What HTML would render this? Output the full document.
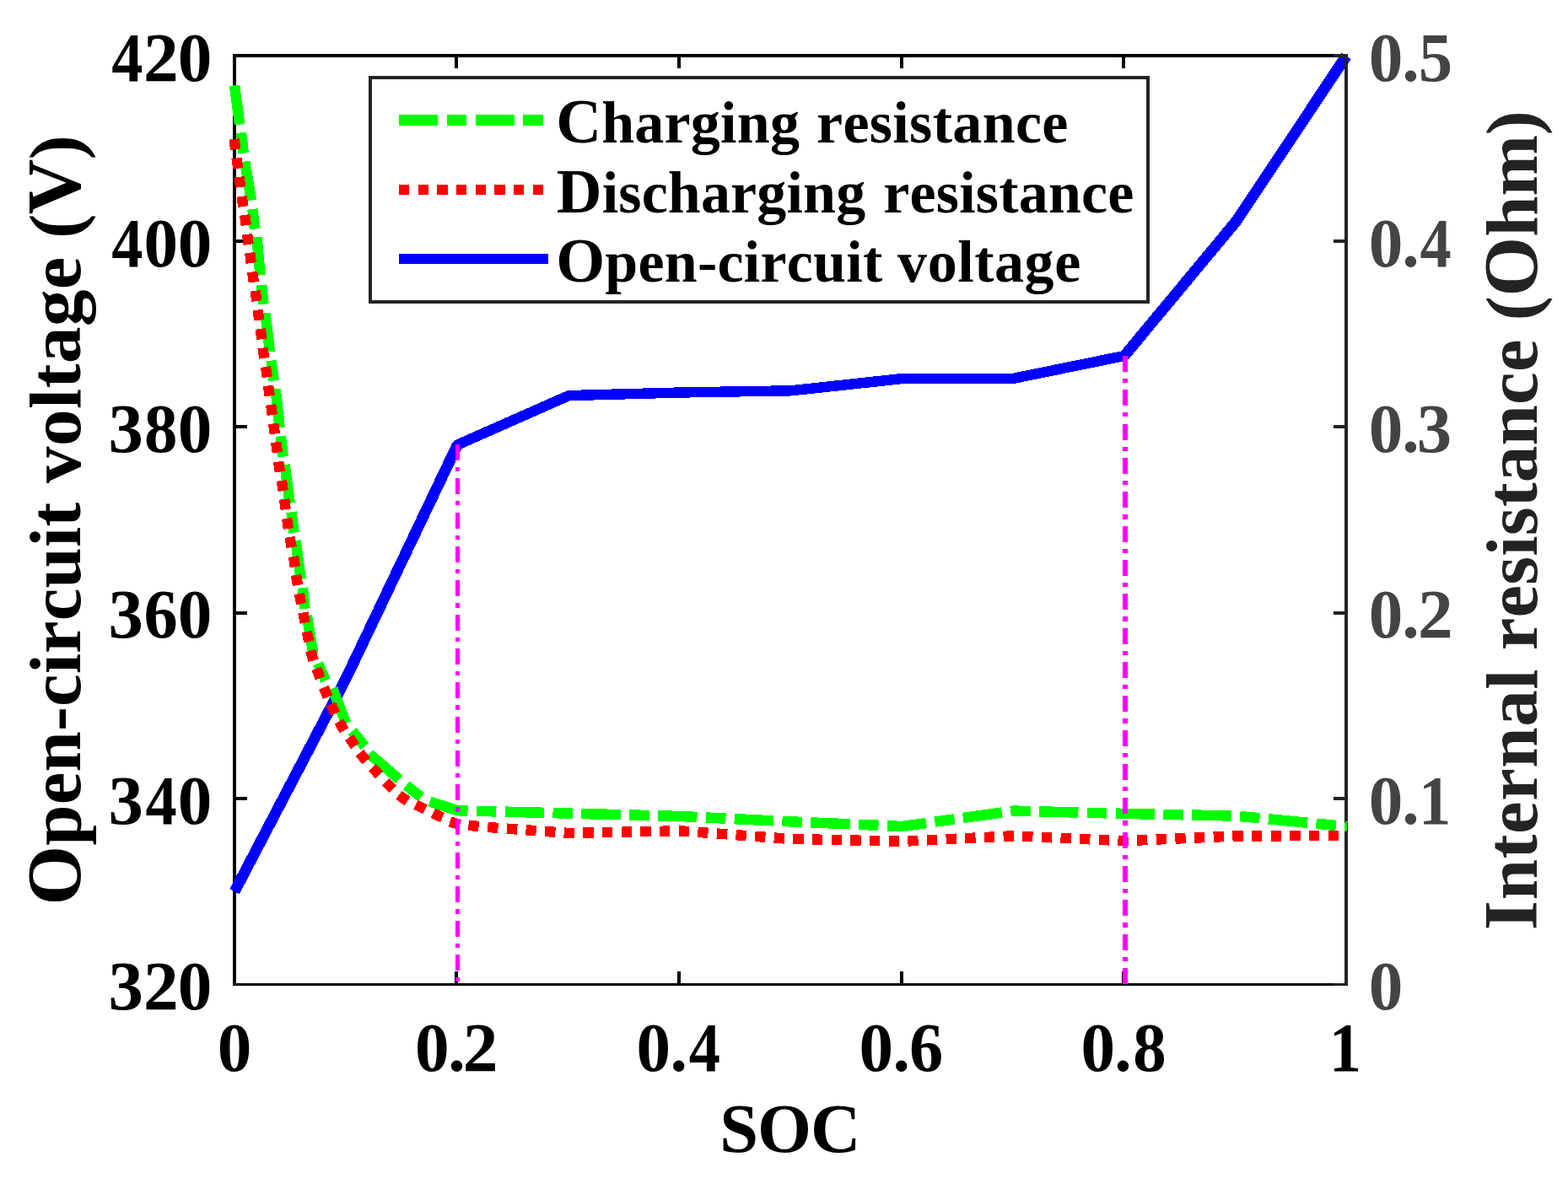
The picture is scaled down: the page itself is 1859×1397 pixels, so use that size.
<!DOCTYPE html>
<html lang="en">
<head>
<meta charset="utf-8">
<title>Open-circuit voltage and internal resistance vs SOC</title>
<style>
html,body{margin:0;padding:0;background:#fff;}
body{width:1859px;height:1397px;overflow:hidden;}
svg{display:block;}
</style>
</head>
<body>
<svg width="1859" height="1397" viewBox="0 0 1859 1397" role="img" aria-label="Open-circuit voltage and internal resistance versus SOC">
<rect x="0" y="0" width="1859" height="1397" fill="#fff"/>
<g shape-rendering="crispEdges">
<rect x="276" y="64" width="4" height="1105" fill="#000"/>
<rect x="276" y="64" width="1322" height="4" fill="#000"/>
<rect x="276" y="1166" width="1322" height="3" fill="#000"/>
<rect x="280" y="284" width="13" height="4" fill="#000"/>
<rect x="280" y="504" width="13" height="4" fill="#000"/>
<rect x="280" y="725" width="13" height="4" fill="#000"/>
<rect x="280" y="945" width="13" height="4" fill="#000"/>
<rect x="539" y="68" width="4" height="13" fill="#000"/>
<rect x="539" y="1152" width="4" height="14" fill="#000"/>
<rect x="803" y="68" width="4" height="13" fill="#000"/>
<rect x="803" y="1152" width="4" height="14" fill="#000"/>
<rect x="1067" y="68" width="4" height="13" fill="#000"/>
<rect x="1067" y="1152" width="4" height="14" fill="#000"/>
<rect x="1330" y="68" width="4" height="13" fill="#000"/>
<rect x="1330" y="1152" width="4" height="14" fill="#000"/>
</g>
<polyline fill="none" stroke="#0000ff" stroke-width="12.4" stroke-linejoin="round" stroke-linecap="butt" shape-rendering="crispEdges" points="278,1057.3 410.2,804.5 542.3,527.5 674.5,469.1 806.5,465.5 938,463.3 1070,449 1201.7,448.8 1333,422 1465.5,262.5 1596,66.5"/>
<polyline fill="none" stroke="#0000ff" stroke-width="13.1" stroke-linejoin="round" stroke-linecap="butt" shape-rendering="crispEdges" points="278,1057.3 410.2,804.5 542.3,527.5"/>
<polyline fill="none" stroke="#0000ff" stroke-width="13.1" stroke-linejoin="round" stroke-linecap="butt" shape-rendering="crispEdges" points="1333,422 1465.5,262.5 1596,66.5"/>
<g shape-rendering="crispEdges">
<rect x="1594" y="64" width="4" height="1105" fill="#232323"/>
<rect x="1581" y="64" width="13" height="4" fill="#232323"/>
<rect x="1581" y="1166" width="13" height="3" fill="#232323"/>
<rect x="1581" y="284" width="13" height="4" fill="#232323"/>
<rect x="1581" y="504" width="13" height="4" fill="#232323"/>
<rect x="1581" y="725" width="13" height="4" fill="#232323"/>
<rect x="1581" y="945" width="13" height="4" fill="#232323"/>
</g>
<path fill="none" stroke="#00ff00" stroke-width="12.5" stroke-linecap="butt" shape-rendering="crispEdges" d="M278.1 101.3 L284.1 147.7 M286.1 157.4 L288.7 181.6 M290.2 191.5 L298 237.5 M299.5 248 L302 271.5 M304.5 281.1 L308.5 326.5 M310.1 338 L312.5 360.8 M314.5 371.3 L320 417.3 M321.6 427.7 L324.6 451.5 M326.6 461.2 L331.6 507.1 M332.7 517.2 L335.8 541.7 M337.6 551.1 L343.6 596.8 M345.4 607.3 L348.7 631.7 M350.6 641 L356.7 686.8 M358.7 697.1 L361.6 721.9 M363.9 730 L371.4 775.4 M376.9 786.8 L386.1 807 M394.2 816.4 L410.4 858 M417.8 866.9 L432.4 885 M437.9 894 L473.3 924.3 M481.7 931.5 L499.4 945.2"/>
<path fill="none" stroke="#00ff00" stroke-width="12.5" stroke-linecap="butt" stroke-linejoin="miter" shape-rendering="crispEdges" d="M509.7 950.6 L542.3 961.2 L554.52 961.51 M564.81 961.78 L588.4 962.39 M598.7 962.65 L645.19 963.85 M655.48 964.11 L674.5 964.6 L679.07 964.72 M689.37 964.98 L735.86 966.18 M746.15 966.45 L769.74 967.05 M780.04 967.32 L806.5 968 L826.51 968.97 M836.8 969.47 L860.37 970.62 M870.66 971.12 L917.1 973.38 M927.39 973.88 L938 974.4 L950.97 974.95 M961.26 975.39 L1007.71 977.36 M1018 977.79 L1041.58 978.79 M1051.87 979.23 L1070 980 L1098.09 976.08 M1108.29 974.65 L1131.66 971.39 M1141.86 969.96 L1187.91 963.53 M1198.11 962.1 L1201.7 961.6 L1221.67 962.1 M1231.97 962.36 L1278.45 963.52 M1288.75 963.78 L1312.34 964.37 M1322.64 964.63 L1333.5 964.9 L1369.13 965.63 M1379.43 965.84 L1403.02 966.32 M1413.32 966.53 L1459.81 967.48 M1470.09 968.04 L1493.58 970.29 M1503.83 971.27 L1550.12 975.71 M1560.38 976.69 L1583.87 978.94 M1594.12 979.92 L1597 980.2"/>
<path fill="none" stroke="#ff0000" stroke-width="12.4" stroke-linecap="butt" shape-rendering="crispEdges" d="M277.59 164.9 L279.21 177.1 M280.59 187.6 L282.21 199.8 M283.58 209.81 L285.22 221.99 M286.62 232.81 L288.38 244.99 M290.03 254.91 L291.77 267.09 M293.07 277.81 L294.73 289.99 M296.17 299.81 L297.83 311.99 M299.12 322.51 L300.88 334.69 M302.62 344.91 L304.38 357.09 M305.69 367.5 L307.31 379.7 M308.7 390 L310.3 402.2 M311.54 412.61 L313.26 424.79 M315.02 435.11 L316.78 447.29 M318.07 457.41 L319.73 469.59 M321.17 479.91 L322.83 492.09 M324.18 502.41 L325.82 514.59 M327.19 524.4 L328.81 536.6 M330.09 547.42 L331.91 559.58 M333.86 569.92 L335.74 582.08 M337.06 592.01 L338.74 604.19 M340.09 614.82 L341.91 626.98 M343.54 636.94 L345.66 649.06 M347.9 660.03 L349.9 672.17 M351.02 681.93 L352.98 694.07 M354.85 704.06 L357.15 716.14 M359.29 726.47 L361.71 738.53 M363.74 748.98 L366.26 761.02 M368.21 771.49 L371.59 783.31 M375.25 792.74 L379.55 804.26 M383.82 815.33 L388.58 826.67 M392.38 834.94 L397.62 846.06 M401.93 855.57 L408.07 866.23 M414 874.54 L421 884.66 M426.56 892.8 L434.24 902.4 M441.34 910.07 L449.66 919.13 M457.1 927.2 L465.9 935.8 M472.94 942.91 L483.06 949.89 M493 954.24 L504 959.76 M513.33 964.29 L524.47 969.51 M533.5 974.47 L545.3 977.93 M555.39 978.69 L567.61 980.11 M578.27 980.86 L590.53 981.94"/>
<path fill="none" stroke="#ff0000" stroke-width="12.4" stroke-linecap="butt" stroke-linejoin="miter" shape-rendering="crispEdges" d="M600.88 982.61 L613.14 983.51 M623.49 984.26 L635.75 985.16 M646.09 985.92 L658.36 986.82 M668.7 987.58 L674.5 988 L680.99 987.87 M691.36 987.66 L703.65 987.4 M714.02 987.19 L726.32 986.94 M736.69 986.73 L748.98 986.48 M759.35 986.26 L771.65 986.01 M782.02 985.8 L794.31 985.55 M804.68 985.34 L806.5 985.3 L816.95 986.07 M827.29 986.83 L839.56 987.74 M849.9 988.5 L862.17 989.41 M872.51 990.17 L884.78 991.07 M895.12 991.84 L907.39 992.74 M917.73 993.5 L930 994.41 M940.34 995.05 L952.64 995.31 M963.01 995.53 L975.31 995.79 M985.67 996.01 L997.97 996.27 M1008.34 996.49 L1020.64 996.75 M1031 996.97 L1043.3 997.23 M1053.67 997.45 L1065.96 997.71 M1076.33 997.49 L1088.61 996.88 M1098.97 996.37 L1111.25 995.76 M1121.61 995.25 L1133.9 994.65 M1144.25 994.14 L1156.54 993.53 M1166.9 993.02 L1179.18 992.41 M1189.54 991.9 L1201.7 991.3 L1201.82 991.31 M1212.18 991.77 L1224.47 992.32 M1234.83 992.78 L1247.12 993.33 M1257.48 993.8 L1269.77 994.35 M1280.13 994.81 L1292.41 995.36 M1302.77 995.82 L1315.06 996.37 M1325.42 996.84 L1333.5 997.2 L1337.71 997.02 M1348.07 996.57 L1360.36 996.04 M1370.72 995.59 L1383.01 995.06 M1393.37 994.61 L1405.65 994.08 M1416.01 993.64 L1428.3 993.11 M1438.66 992.66 L1450.95 992.13 M1461.31 991.68 L1465.5 991.5 L1473.61 991.48 M1483.98 991.44 L1496.28 991.41 M1506.65 991.37 L1518.95 991.34 M1529.32 991.31 L1541.62 991.27 M1551.99 991.24 L1564.29 991.2 M1574.66 991.17 L1586.96 991.13"/>
<line x1="542.4" y1="527" x2="542.4" y2="1167" stroke="#ff00ff" stroke-width="5.8" stroke-dasharray="18.9 8.15 5.1 8.19" shape-rendering="crispEdges"/>
<line x1="1334" y1="422" x2="1334" y2="1167" stroke="#ff00ff" stroke-width="5.8" stroke-dasharray="18.9 8.15 5.1 8.19" shape-rendering="crispEdges"/>
<rect x="439" y="92" width="922" height="266" fill="#fff" stroke="#232323" stroke-width="4" shape-rendering="crispEdges"/>
<path fill="none" stroke="#00ff00" stroke-width="12.6" d="M472.9 142.4H518.9M530 142.4H553.2M563.8 142.4H609.8M620.1 142.4H644.1" shape-rendering="crispEdges"/>
<path fill="none" stroke="#ff0000" stroke-width="12.4" stroke-dasharray="12.3 10.37" d="M472.9 224.9H644.2" shape-rendering="crispEdges"/>
<path fill="none" stroke="#0000ff" stroke-width="12.4" d="M472.9 307H649.9" shape-rendering="crispEdges"/>
<g style="font-family:'Liberation Serif',serif;font-weight:bold;font-kerning:none;font-variant-ligatures:none">
<text y="96" font-size="82.2" fill="#000"><tspan x="132.28" textLength="37.2" lengthAdjust="spacingAndGlyphs">4</tspan><tspan x="170" textLength="41.68" lengthAdjust="spacingAndGlyphs">2</tspan><tspan x="210.86" textLength="40.58" lengthAdjust="spacingAndGlyphs">0</tspan></text>
<text y="316" font-size="82.2" fill="#000"><tspan x="132.28" textLength="37.2" lengthAdjust="spacingAndGlyphs">4</tspan><tspan x="170.51" textLength="40.58" lengthAdjust="spacingAndGlyphs">0</tspan><tspan x="210.86" textLength="40.58" lengthAdjust="spacingAndGlyphs">0</tspan></text>
<text y="536" font-size="82.2" fill="#000"><tspan x="128.64" textLength="41.33" lengthAdjust="spacingAndGlyphs">3</tspan><tspan x="171.08" textLength="39.44" lengthAdjust="spacingAndGlyphs">8</tspan><tspan x="210.86" textLength="40.58" lengthAdjust="spacingAndGlyphs">0</tspan></text>
<text y="756" font-size="82.2" fill="#000"><tspan x="128.64" textLength="41.33" lengthAdjust="spacingAndGlyphs">3</tspan><tspan x="170.5" textLength="40.2" lengthAdjust="spacingAndGlyphs">6</tspan><tspan x="210.86" textLength="40.58" lengthAdjust="spacingAndGlyphs">0</tspan></text>
<text y="977" font-size="82.2" fill="#000"><tspan x="128.64" textLength="41.33" lengthAdjust="spacingAndGlyphs">3</tspan><tspan x="172.38" textLength="37.2" lengthAdjust="spacingAndGlyphs">4</tspan><tspan x="210.86" textLength="40.58" lengthAdjust="spacingAndGlyphs">0</tspan></text>
<text y="1197" font-size="82.2" fill="#000"><tspan x="128.64" textLength="41.33" lengthAdjust="spacingAndGlyphs">3</tspan><tspan x="170" textLength="41.68" lengthAdjust="spacingAndGlyphs">2</tspan><tspan x="210.86" textLength="40.58" lengthAdjust="spacingAndGlyphs">0</tspan></text>
<text y="96" font-size="82.2" fill="#444"><tspan x="1622.81" textLength="40.58" lengthAdjust="spacingAndGlyphs">0</tspan><tspan x="1662.24" textLength="20.51" lengthAdjust="spacingAndGlyphs">.</tspan><tspan x="1681.67" textLength="40.39" lengthAdjust="spacingAndGlyphs">5</tspan></text>
<text y="316" font-size="82.2" fill="#444"><tspan x="1622.81" textLength="40.58" lengthAdjust="spacingAndGlyphs">0</tspan><tspan x="1662.24" textLength="20.51" lengthAdjust="spacingAndGlyphs">.</tspan><tspan x="1683.58" textLength="37.2" lengthAdjust="spacingAndGlyphs">4</tspan></text>
<text y="536" font-size="82.2" fill="#444"><tspan x="1622.81" textLength="40.58" lengthAdjust="spacingAndGlyphs">0</tspan><tspan x="1662.24" textLength="20.51" lengthAdjust="spacingAndGlyphs">.</tspan><tspan x="1679.84" textLength="41.33" lengthAdjust="spacingAndGlyphs">3</tspan></text>
<text y="756" font-size="82.2" fill="#444"><tspan x="1622.81" textLength="40.58" lengthAdjust="spacingAndGlyphs">0</tspan><tspan x="1662.24" textLength="20.51" lengthAdjust="spacingAndGlyphs">.</tspan><tspan x="1681" textLength="41.68" lengthAdjust="spacingAndGlyphs">2</tspan></text>
<text y="977" font-size="82.2" fill="#444"><tspan x="1622.81" textLength="40.58" lengthAdjust="spacingAndGlyphs">0</tspan><tspan x="1662.24" textLength="20.51" lengthAdjust="spacingAndGlyphs">.</tspan><tspan x="1681.97" textLength="38.3" lengthAdjust="spacingAndGlyphs">1</tspan></text>
<text y="1197" font-size="82.2" fill="#444"><tspan x="1622.81" textLength="40.58" lengthAdjust="spacingAndGlyphs">0</tspan></text>
<text y="1270" font-size="82.2" fill="#000"><tspan x="257.81" textLength="40.58" lengthAdjust="spacingAndGlyphs">0</tspan></text>
<text y="1270" font-size="82.2" fill="#000"><tspan x="492.11" textLength="40.58" lengthAdjust="spacingAndGlyphs">0</tspan><tspan x="531.14" textLength="20.51" lengthAdjust="spacingAndGlyphs">.</tspan><tspan x="548.85" textLength="41.68" lengthAdjust="spacingAndGlyphs">2</tspan></text>
<text y="1270" font-size="82.2" fill="#000"><tspan x="754.61" textLength="40.58" lengthAdjust="spacingAndGlyphs">0</tspan><tspan x="794.44" textLength="20.51" lengthAdjust="spacingAndGlyphs">.</tspan><tspan x="816.68" textLength="37.2" lengthAdjust="spacingAndGlyphs">4</tspan></text>
<text y="1270" font-size="82.2" fill="#000"><tspan x="1018.61" textLength="40.58" lengthAdjust="spacingAndGlyphs">0</tspan><tspan x="1058.39" textLength="20.51" lengthAdjust="spacingAndGlyphs">.</tspan><tspan x="1077.95" textLength="40.2" lengthAdjust="spacingAndGlyphs">6</tspan></text>
<text y="1270" font-size="82.2" fill="#000"><tspan x="1281.61" textLength="40.58" lengthAdjust="spacingAndGlyphs">0</tspan><tspan x="1321.34" textLength="20.51" lengthAdjust="spacingAndGlyphs">.</tspan><tspan x="1343.18" textLength="39.44" lengthAdjust="spacingAndGlyphs">8</tspan></text>
<text y="1270" font-size="82.2" fill="#000"><tspan x="1575.77" textLength="38.3" lengthAdjust="spacingAndGlyphs">1</tspan></text>
<text y="1366.3" fill="#000"><tspan x="853.32" letter-spacing="-1.04"><tspan font-size="82.3">SOC</tspan></tspan></text>
<text y="169" fill="#000"><tspan x="659.16" letter-spacing="0.22"><tspan font-size="74.5">C</tspan><tspan font-size="70">harging</tspan></tspan> <tspan x="968.02" letter-spacing="0.32"><tspan font-size="70">resistance</tspan></tspan></text>
<text y="252" fill="#000"><tspan x="659.69" letter-spacing="0.15"><tspan font-size="74.5">D</tspan><tspan font-size="70">ischarging</tspan></tspan> <tspan x="1047.32" letter-spacing="0.17"><tspan font-size="70">resistance</tspan></tspan></text>
<text y="334.2" fill="#000"><tspan x="659.16" letter-spacing="0.23"><tspan font-size="74.5">O</tspan><tspan font-size="70">pen-circuit</tspan></tspan> <tspan x="1064.1" letter-spacing="0.55"><tspan font-size="70">voltage</tspan></tspan></text>
<text transform="translate(95,1069.1) rotate(-90)" y="0" fill="#000"><tspan x="-4.43" letter-spacing="0.12"><tspan font-size="90.8">O</tspan><tspan font-size="87">pen-circuit</tspan></tspan> <tspan x="496.2" letter-spacing="0.43"><tspan font-size="87">voltage</tspan></tspan> <tspan x="786.28" letter-spacing="-0.48"><tspan font-size="87">(</tspan><tspan font-size="90.8">V</tspan><tspan font-size="87">)</tspan></tspan></text>
<text transform="translate(1821.7,1100.1) rotate(-90)" y="0" fill="#232323"><tspan x="-3.06" letter-spacing="0.52"><tspan font-size="90.8">I</tspan><tspan font-size="87">nternal</tspan></tspan> <tspan x="328.86" letter-spacing="0.17"><tspan font-size="87">resistance</tspan></tspan> <tspan x="719.78" letter-spacing="-0.07"><tspan font-size="87">(</tspan><tspan font-size="90.8">O</tspan><tspan font-size="87">hm)</tspan></tspan></text>
</g>
</svg>
</body>
</html>
